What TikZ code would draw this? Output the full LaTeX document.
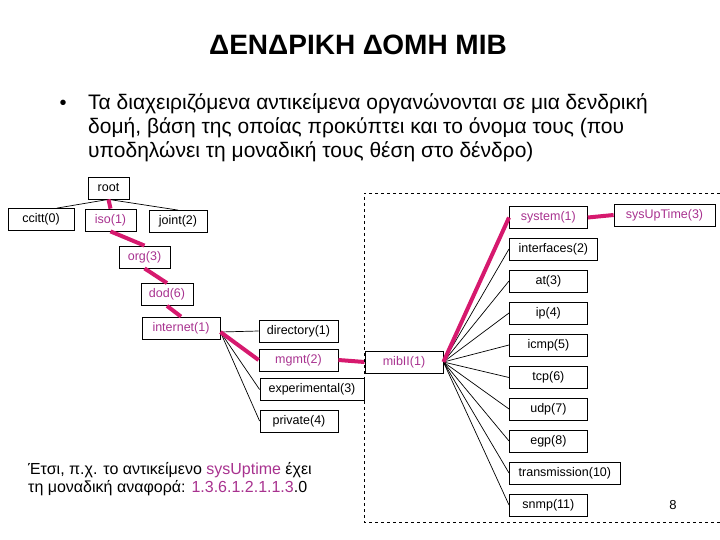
\documentclass[tikz,border=0pt]{standalone}
\usepackage{fontspec}
\setmainfont{Liberation Sans}
\usetikzlibrary{calc}
\definecolor{hotline}{HTML}{D6196E}
\definecolor{hottext}{HTML}{A8328F}
\tikzset{
  mib/.style={draw,line width=0.8pt,minimum width=78pt,minimum height=22pt,inner sep=2pt},
  hot/.style={text=hottext},
  wire/.style={line width=0.7pt},
  hotwire/.style={draw=hotline,line width=4pt}
}

\begin{document}
\begin{tikzpicture}[x=1pt,y=-1pt,font=\fontsize{12.5}{14}\selectfont]
  \useasboundingbox (0,0) rectangle (720,540);
  \node[font=\bfseries\fontsize{28}{30}\selectfont,anchor=base] (title) at (358,55) {ΔΕΝΔΡΙΚΗ ΔΟΜΗ ΜΙΒ};

  \node[font=\fontsize{20}{22}\selectfont,anchor=base] (bullet) at (63,110) {•};
  \foreach \t [count=\k] in {%
    {Τα διαχειριζόμενα αντικείμενα οργανώνονται σε μια δενδρική},
    {δομή, βάση της οποίας προκύπτει και το όνομα τους (που},
    {υποδηλώνει τη μοναδική τους θέση στο δένδρο)}}
  {
    \node[font=\fontsize{21}{23}\selectfont,anchor=base west,inner sep=0pt] (line\k) at (88,{86+24*\k}) {\t};
  }

  \node[mib,minimum width=41pt] (root) at (108.5,188) {root};
  \node[mib,minimum width=66pt] (ccitt) at (41,219.5) {ccitt(0)};
  \node[mib,hot,minimum width=51pt] (iso) at (110.5,220) {iso(1)};
  \node[mib,minimum width=58pt] (joint) at (178,221.5) {joint(2)};
  \node[mib,hot,minimum width=51pt] (org) at (144.5,257) {org(3)};
  \node[mib,hot,minimum width=52pt] (dod) at (167,294.5) {dod(6)};
  \node[mib,hot] (internet) at (181,328) {internet(1)};
  \node[mib,minimum width=79pt] (directory) at (298.5,331) {directory(1)};
  \node[mib,hot,minimum width=79pt] (mgmt) at (298.5,360) {mgmt(2)};
  \node[mib,minimum width=104pt] (experimental) at (312,389.5) {experimental(3)};
  \node[mib] (private) at (299,421) {private(4)};
  \node[mib,hot] (mibII) at (404,362) {mibII(1)};
  \node[mib,hot,anchor=west] (system) at (509,217.5) {system(1)};
  \node[mib,hot,minimum width=101pt] (sysuptime) at (664.5,215) {sysUpTime(3)};

  \foreach \n/\lbl/\y/\w in {%
    2/interfaces(2)/249/88, 3/at(3)/281/78, 4/ip(4)/313/78, 5/icmp(5)/345/78,
    6/tcp(6)/377.5/78, 7/udp(7)/409/78, 8/egp(8)/441/78,
    10/transmission(10)/473/111, 11/snmp(11)/505/78}
  {
    \node[mib,anchor=west,minimum width=\w pt] (grp\n) at (509,\y) {\lbl};
    \draw[wire] (mibII.east) -- (grp\n.west);
  }

  \draw[wire] (root.south) -- ([xshift=16pt]ccitt.north);
  \draw[wire] (root.south) -- (joint.north);
  \draw[hotwire] (root.south) -- (iso.north);
  \draw[hotwire] (iso.south) -- (org.north);
  \draw[hotwire] (org.south) -- (dod.north);
  \draw[hotwire] (dod.south) -- (internet.north);

  \coordinate (fan) at ([yshift=-4pt]internet.east);
  \draw[wire] (fan) -- (directory.west);
  \draw[wire] (fan) -- (experimental.west);
  \draw[wire] (fan) -- (private.west);
  \draw[hotwire] (fan) -- (mgmt.west);
  \draw[hotwire] (mgmt.east) -- (mibII.west);
  \draw[hotwire] (mibII.east) -- (system.west);
  \draw[hotwire] (system.east) -- (sysuptime.west);

  \draw[line width=0.8pt,dashed] (720,193) -| (364,522) -- (720,522);

  \node[font=\fontsize{16}{18}\selectfont,anchor=base west,inner sep=0pt] (note1) at (28,474)
    {Έτσι, π.χ. το αντικείμενο {\color{hottext}sysUptime} έχει};
  \node[font=\fontsize{16}{18}\selectfont,anchor=base west,inner sep=0pt] (note2) at (28,492)
    {τη μοναδική αναφορά: {\color{hottext}1.3.6.1.2.1.1.3}.0};

  \node[font=\fontsize{13}{15}\selectfont,anchor=base] (pagenum) at (673,509) {8};
\end{tikzpicture}
\end{document}
